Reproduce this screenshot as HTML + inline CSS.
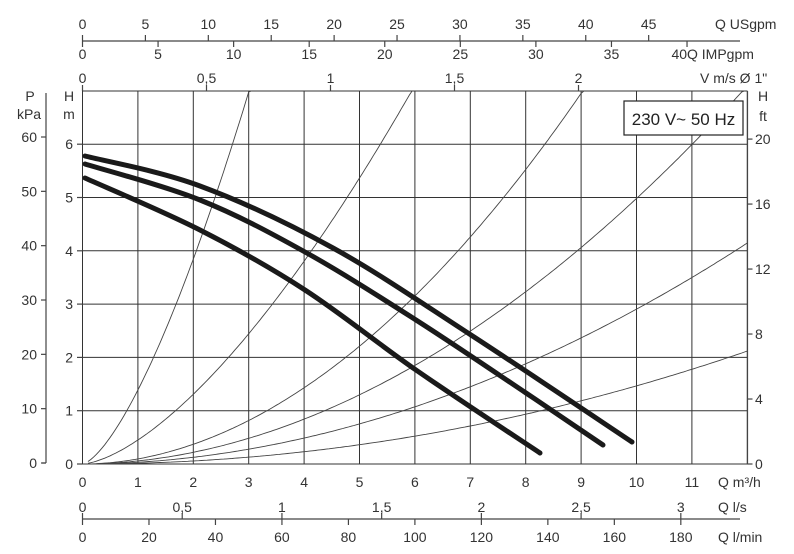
<!DOCTYPE html>
<html><head><meta charset="utf-8"><style>
html,body{margin:0;padding:0;background:#fff;}
svg{display:block;font-family:"Liberation Sans",sans-serif;}
</style></head><body>
<svg id="s" width="794" height="554" viewBox="0 0 794 554" xmlns="http://www.w3.org/2000/svg">
<rect x="624" y="101" width="119" height="34" fill="#fff" stroke="#222" stroke-width="1.2"/>
</svg>
<script>
(function(){
const S=document.getElementById('s');const NS='http://www.w3.org/2000/svg';
function el(t,a,txt){const e=document.createElementNS(NS,t);for(const k in a)e.setAttribute(k,a[k]);if(txt!==undefined)e.textContent=txt;S.insertBefore(e,S.lastElementChild);return e;}
function addTop(t,a,txt){const e=document.createElementNS(NS,t);for(const k in a)e.setAttribute(k,a[k]);if(txt!==undefined)e.textContent=txt;S.appendChild(e);return e;}
const X0=82.5,UX=55.4,Y0=464,UY=53.3,YT=91,XR=747.5;
const X=q=>X0+UX*q, Y=h=>Y0-UY*h;
const g='#333';
for(let q=0;q<=12;q++)el('line',{x1:X(q),y1:YT,x2:X(q),y2:Y0,stroke:g,'stroke-width':1});
for(let h=0;h<=6;h++)el('line',{x1:X0,y1:Y(h),x2:XR,y2:Y(h),stroke:g,'stroke-width':1});
el('line',{x1:X0,y1:YT,x2:XR,y2:YT,stroke:g,'stroke-width':1});
const sc=[[1.388,1.47],[0.45,1.54],[0.0958,1.95],[0.0572,1.94],[0.0326,1.95],[0.014,2.02]];
sc.forEach(function(c){const a=c[0],n=c[1];let d='';for(let q=0.1;q<=12.001;q+=0.05){let h=a*Math.pow(q,n);let x=X(q),y=Y(h);if(y<YT){d+=(d?'L':'M')+x.toFixed(1)+' '+YT;break;}d+=(d?'L':'M')+x.toFixed(1)+' '+y.toFixed(1);}
el('path',{d:d,fill:'none',stroke:'#444','stroke-width':0.9});});
const pcs=[
[[85,156],[200,186],[333,248],[471,335],[632,442]],
[[85,164],[200,200],[305,252],[416,320],[526,393],[603,445]],
[[85,178],[200,230],[305,290],[416,370],[540,453]]];
function cr(p){let d='M'+p[0][0]+' '+p[0][1];for(let i=0;i<p.length-1;i++){const p0=p[Math.max(0,i-1)],p1=p[i],p2=p[i+1],p3=p[Math.min(p.length-1,i+2)];
const c1=[p1[0]+(p2[0]-p0[0])/6,p1[1]+(p2[1]-p0[1])/6],c2=[p2[0]-(p3[0]-p1[0])/6,p2[1]-(p3[1]-p1[1])/6];d+='C'+c1[0]+' '+c1[1]+' '+c2[0]+' '+c2[1]+' '+p2[0]+' '+p2[1];}return d;}
pcs.forEach(function(p){el('path',{d:cr(p),fill:'none',stroke:'#1a1a1a','stroke-width':5,'stroke-linecap':'round'});});
function T(x,y,s,anchor,fs){el('text',{x:x,y:y,'font-size':fs||14,'text-anchor':anchor||'middle',fill:'#333'},s);}
function L(x1,y1,x2,y2){el('line',{x1:x1,y1:y1,x2:x2,y2:y2,stroke:'#444','stroke-width':1.2});}
for(let h=0;h<=6;h++){L(77,Y(h),X0,Y(h));T(73,Y(h)+5,String(h),'end',14);}
T(69,101,'H','middle',14);T(69,119,'m','middle',14);
const KP=UY/9.81;L(46,YT+2,46,Y0-1);L(42,Y0-1,46,Y0-1);
for(let k=0;k<=60;k+=10){const y=Y0-1-KP*k;L(41,y,46,y);T(37,y+5,String(k),'end',14);}
T(30,101,'P','middle',14);T(29,119,'kPa','middle',14);
const FT=UY*0.3048;L(XR,YT,XR,Y0);
for(let f=0;f<=20;f+=4){const y=Y0-FT*f;L(XR,y,XR+5,y);T(755,y+5,String(f),'start',14);}
T(763,101,'H','middle',14);T(763,121,'ft','middle',14);
for(let q=0;q<=11;q++)T(X(q),487,String(q),'middle',14);
T(718,487,'Q m³/h','start',14);
L(X0,519,740,519);
for(let v=0;v<=3;v+=0.5){const x=X(v*3.6);L(x,513,x,519);T(x,512,String(v).replace('.',','),'middle',14);}
T(718,512,'Q l/s','start',14);
for(let v=0;v<=180;v+=20){const x=X(v*0.06);L(x,519,x,525);T(x,542,String(v),'middle',14);}
T(718,542,'Q l/min','start',14);
L(X0,41,740,41);
for(let v=0;v<=45;v+=5){const x=X(v*0.2271);L(x,35,x,41);T(x,29,String(v),'middle',14);}
T(715,29,'Q USgpm','start',14);
for(let v=0;v<=40;v+=5){const x=X(v*0.2728);L(x,41,x,47);T(x,59,String(v),v==40?'end':'middle',14);}
T(687,59,'Q IMPgpm','start',14);
const VU=248;
for(let v=0;v<=2;v+=0.5){const x=X0+VU*v;L(x,YT-6,x,YT);T(x,83,String(v).replace('.',','),'middle',14);}
T(700,83,'V m/s Ø 1"','start',14);
addTop('text',{x:683.5,y:125,'font-size':17,'text-anchor':'middle',fill:'#222'},'230 V~ 50 Hz');
})();
</script>
</body></html>
